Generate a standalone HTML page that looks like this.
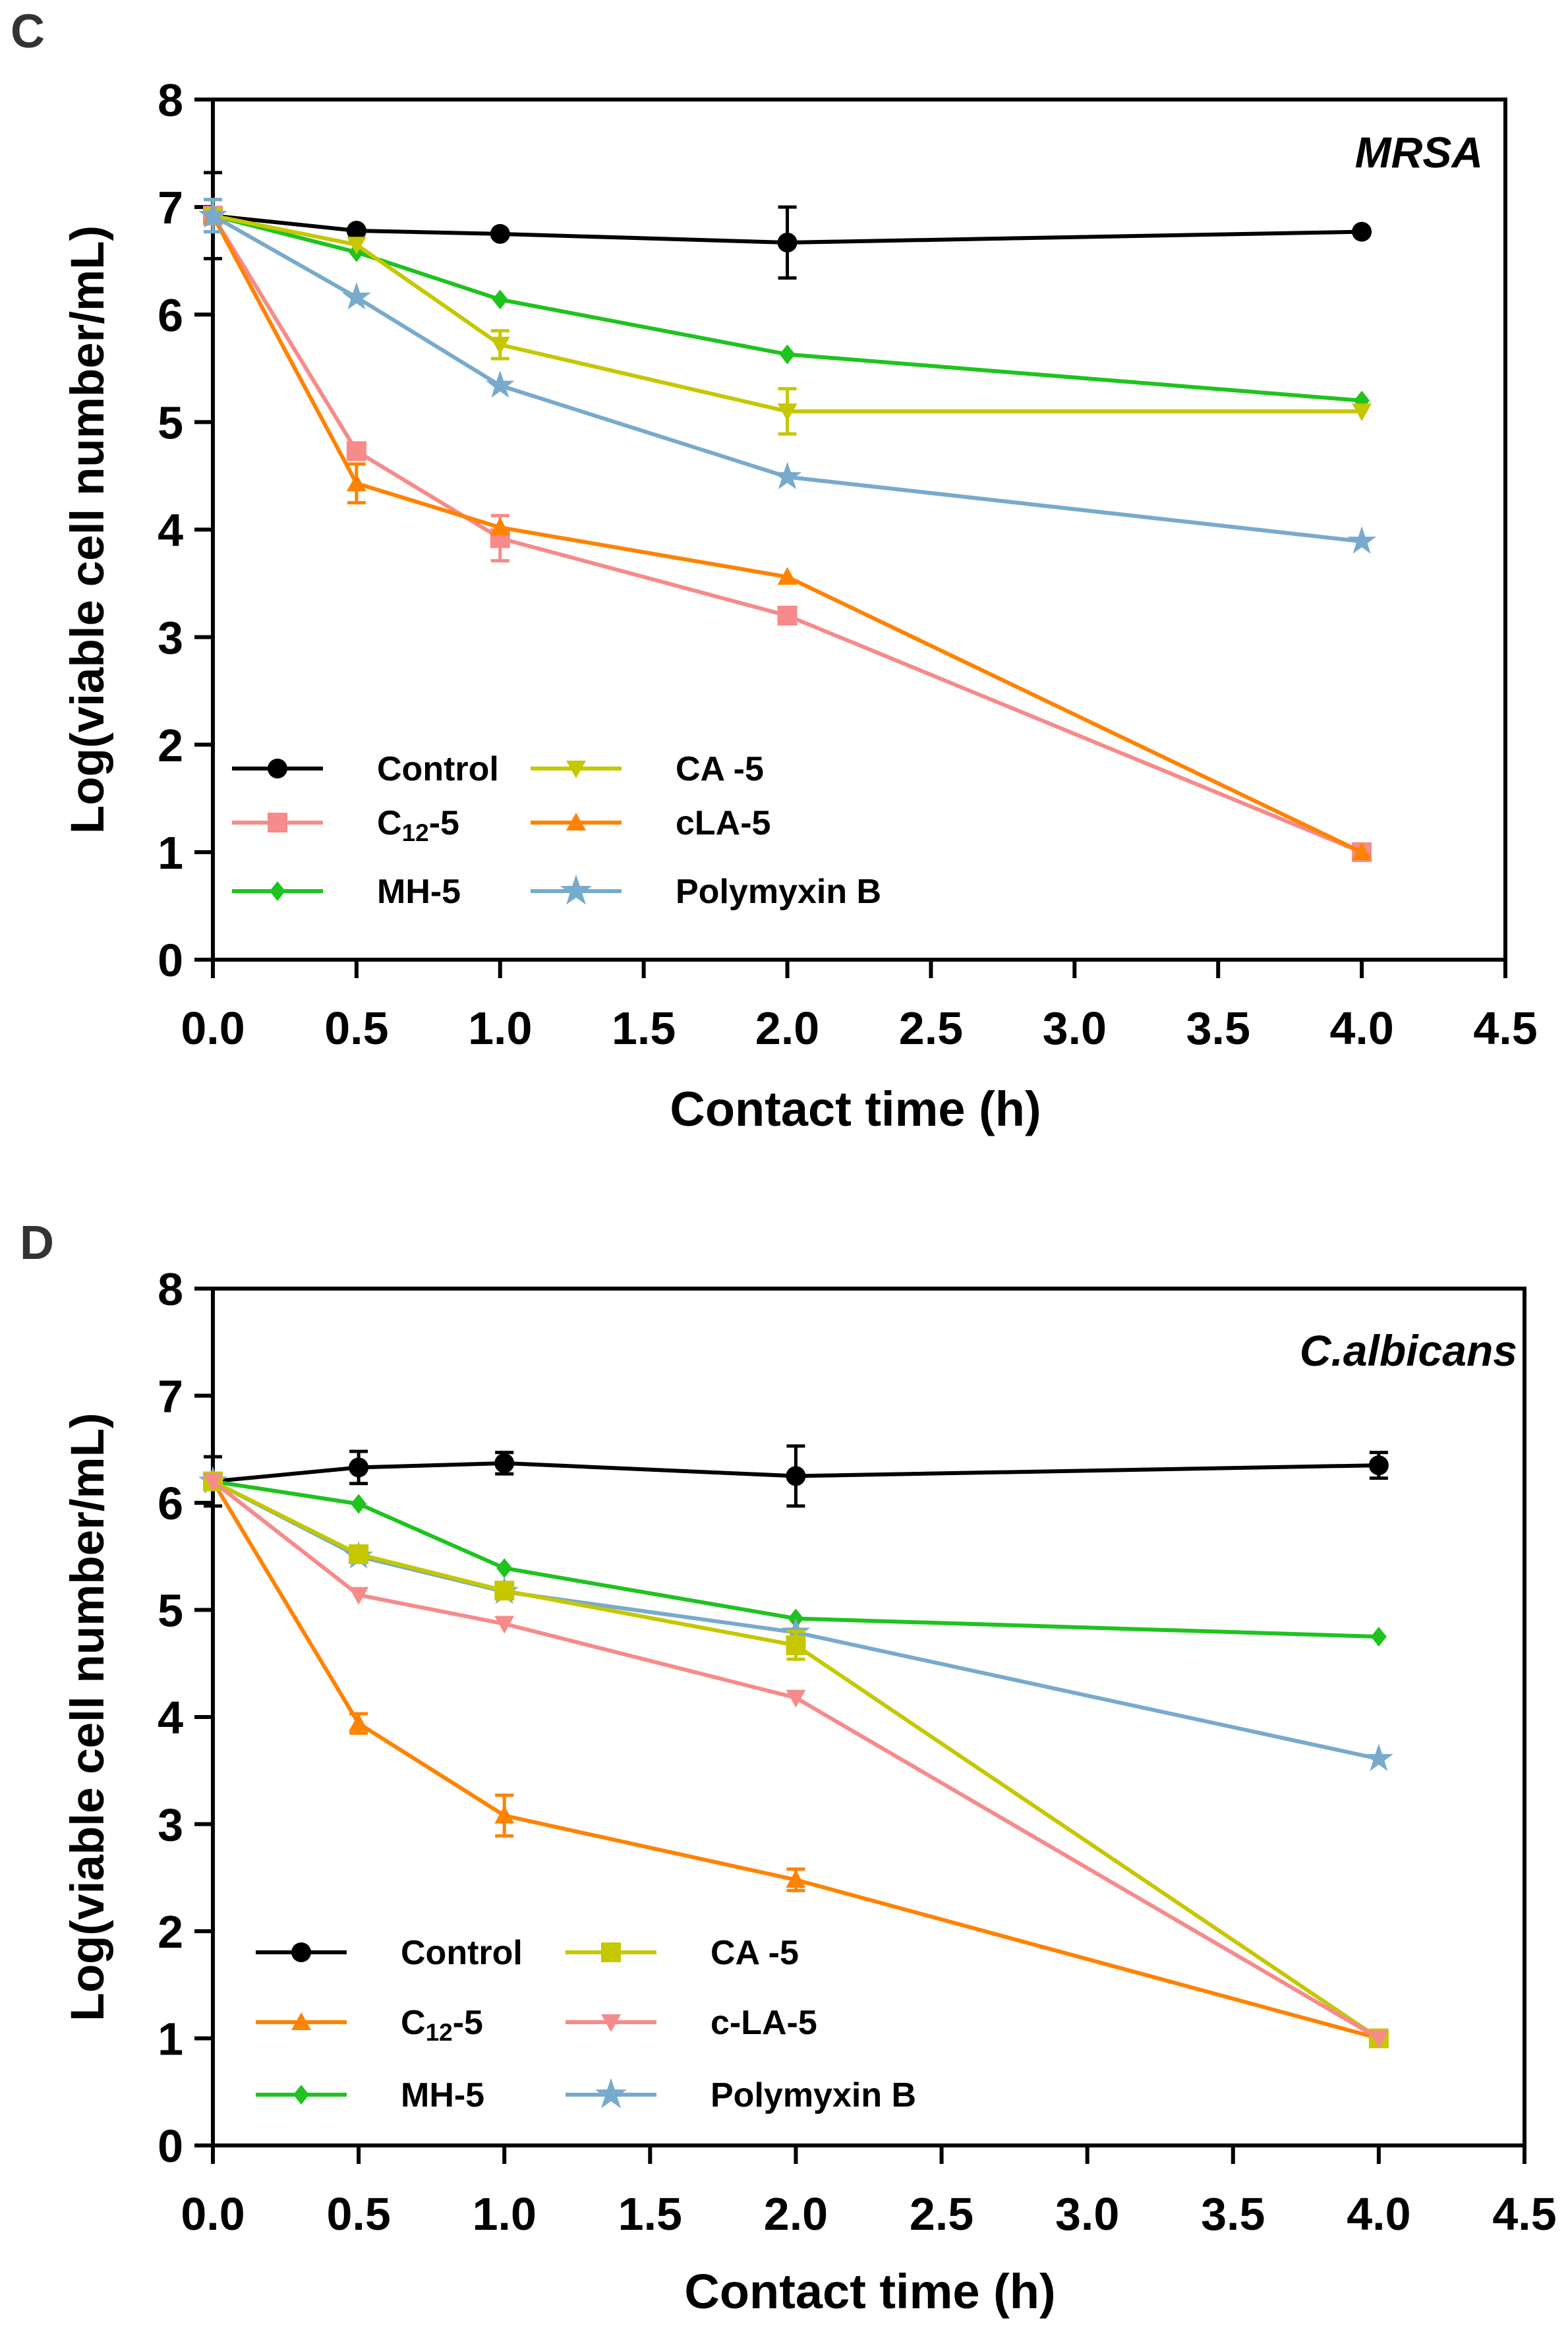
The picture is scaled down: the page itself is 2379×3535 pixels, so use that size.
<!DOCTYPE html>
<html><head><meta charset="utf-8"><style>
html,body{margin:0;padding:0;background:#fff;}
svg{display:block;font-family:"Liberation Sans",Arial,sans-serif;}
</style></head><body>
<svg id="fig" width="2379" height="3535" viewBox="0 0 2379 3535" xmlns="http://www.w3.org/2000/svg"></svg>
<script>
// shared x categories
const times = [0, 0.5, 1, 2, 4];
const xTicks = ["0.0","0.5","1.0","1.5","2.0","2.5","3.0","3.5","4.0","4.5"];
const yTicks = ["0","1","2","3","4","5","6","7","8"];

// Panel C (MRSA)
const cControl = [6.92, 6.78, 6.75, 6.67, 6.77];
const cControlErr = [0.4, 0, 0, 0.33, 0];
const cC12 = [6.92, 4.73, 3.92, 3.2, 1.0];
const cC12Err = [0.15, 0, 0.21, 0, 0];
const cMH = [6.92, 6.58, 6.14, 5.63, 5.2];
const cCA = [6.92, 6.65, 5.72, 5.1, 5.1];
const cCAErr = [0, 0, 0.13, 0.21, 0];
const cCLA = [6.92, 4.43, 4.02, 3.56, 1.0];
const cCLAErr = [0, 0.18, 0, 0, 0];
const cPoly = [6.92, 6.16, 5.34, 4.49, 3.89];
const cPolyErr = [0.15, 0, 0, 0, 0];

// Panel D (C.albicans)
const dControl = [6.2, 6.33, 6.37, 6.25, 6.35];
const dControlErr = [0.23, 0.15, 0.1, 0.28, 0.12];
const dC12 = [6.2, 3.94, 3.08, 2.48, 1.0];
const dC12Err = [0, 0.09, 0.19, 0.1, 0];
const dMH = [6.2, 5.99, 5.39, 4.92, 4.75];
const dCA = [6.2, 5.52, 5.18, 4.67, 1.0];
const dCAErr = [0, 0, 0, 0.13, 0];
const dCLA = [6.2, 5.14, 4.87, 4.18, 1.0];
const dPoly = [6.2, 5.5, 5.17, 4.79, 3.61];

const NS = "http://www.w3.org/2000/svg";
const svg = document.getElementById("fig");
function mk(tag, attrs, parent){const e=document.createElementNS(NS,tag);for(const k in attrs)e.setAttribute(k,attrs[k]);(parent||svg).appendChild(e);return e;}

function marker(g, shape, cx, cy, color, s){
  let e;
  if(shape==="circle"){e=mk("circle",{cx:cx,cy:cy,r:s,fill:color},g);}
  else if(shape==="square"){e=mk("rect",{x:cx-s,y:cy-s,width:2*s,height:2*s,fill:color},g);}
  else if(shape==="diamond"){e=mk("polygon",{points:`${cx},${cy-s} ${cx+s*0.8},${cy} ${cx},${cy+s} ${cx-s*0.8},${cy}`,fill:color},g);}
  else if(shape==="up"){e=mk("polygon",{points:`${cx},${cy-s} ${cx+s},${cy+s*0.8} ${cx-s},${cy+s*0.8}`,fill:color},g);}
  else if(shape==="down"){e=mk("polygon",{points:`${cx},${cy+s} ${cx+s},${cy-s*0.8} ${cx-s},${cy-s*0.8}`,fill:color},g);}
  else if(shape==="star"){let p=[];for(let i=0;i<10;i++){const r=i%2?s*0.45:s*1.15;const a=-Math.PI/2+i*Math.PI/5;p.push((cx+r*Math.cos(a)).toFixed(1)+","+(cy+r*Math.sin(a)).toFixed(1));}e=mk("polygon",{points:p.join(" "),fill:color},g);}
  return e;
}

function panel(cfg){
  const X = v => cfg.x0 + (cfg.x1-cfg.x0)*v/4.5;
  const Y = v => cfg.y0 - (cfg.y0-cfg.y1)*v/8;
  const g = mk("g",{});
  
  
  const lt = mk("text",{x:cfg.letterX,y:cfg.letterY,"font-size":72,"font-weight":"bold",fill:"#333"},g);
  lt.textContent = cfg.letter;
  
  
  const fr = mk("rect",{x:cfg.x0,y:cfg.y1,width:cfg.x1-cfg.x0,height:cfg.y0-cfg.y1,fill:"none",stroke:"#000","stroke-width":6},g);
  
  
  xTicks.forEach((t,i)=>{
    const x = X(i*0.5);
    mk("line",{x1:x,y1:cfg.y0,x2:x,y2:cfg.y0+28,stroke:"#000","stroke-width":6},g);
    const tx = mk("text",{x:x,y:cfg.y0+128,"font-size":70,"font-weight":"bold","text-anchor":"middle"},g);
    tx.textContent = t;
    
    
  });
  yTicks.forEach((t,i)=>{
    const y = Y(i);
    mk("line",{x1:cfg.x0-28,y1:y,x2:cfg.x0,y2:y,stroke:"#000","stroke-width":6},g);
    const ty = mk("text",{x:cfg.x0-45,y:y+25,"font-size":70,"font-weight":"bold","text-anchor":"end"},g);
    ty.textContent = t;
    
    
  });
  const xt = mk("text",{x:cfg.xtX,y:cfg.xtY,"font-size":74,"font-weight":"bold","text-anchor":"middle"},g);
  xt.textContent = "Contact time  (h)";
  
  
  const yt = mk("text",{x:0,y:0,"font-size":71,"font-weight":"bold","text-anchor":"middle",transform:`translate(${cfg.ytX},${(cfg.y0+cfg.y1)/2}) rotate(-90)`},g);
  yt.textContent = "Log(viable cell number/mL)";
  
  
  const org = mk("text",{x:cfg.orgX,y:cfg.orgY,"font-size":66,"font-weight":"bold","font-style":"italic","text-anchor":"end"},g);
  org.textContent = cfg.organism;
  
  
  cfg.series.forEach(s=>{
    const sg = mk("g",{},g);
    
    
    const pts = times.map((t,i)=>X(t).toFixed(1)+","+Y(s.vals[i]).toFixed(1)).join(" ");
    mk("polyline",{points:pts,fill:"none",stroke:s.color,"stroke-width":6,"stroke-linejoin":"round"},sg);
    times.forEach((t,i)=>{
      const e = s.err ? s.err[i] : 0;
      if(e>0){
        const x=X(t), ya=Y(s.vals[i]+e), yb=Y(s.vals[i]-e);
        mk("line",{x1:x,y1:ya,x2:x,y2:yb,stroke:s.color,"stroke-width":5},sg);
        mk("line",{x1:x-14,y1:ya,x2:x+14,y2:ya,stroke:s.color,"stroke-width":5},sg);
        mk("line",{x1:x-14,y1:yb,x2:x+14,y2:yb,stroke:s.color,"stroke-width":5},sg);
      }
      const m = marker(sg, s.shape, X(t), Y(s.vals[i]), s.color, s.shape==="star"?20:15);
      
      
    });
  });
  const lg = mk("g",{},g);
  
  
  cfg.series.forEach((s,i)=>{
    const lx = cfg.legX[s.lcol], ly = cfg.legY[s.lrow];
    const eg = mk("g",{},lg);
    
    
    mk("line",{x1:lx,y1:ly,x2:lx+138,y2:ly,stroke:s.color,"stroke-width":6},eg);
    marker(eg, s.shape, lx+69, ly, s.color, s.shape==="star"?22:15);
    const tt = mk("text",{x:lx+cfg.legTextOff,y:ly+18,"font-size":52,"font-weight":"bold"},eg);
    if(s.label==="C12-5"){
      tt.appendChild(document.createTextNode("C"));
      const sub = mk("tspan",{"font-size":37,dy:10},tt); sub.textContent="12";
      const rest = mk("tspan",{dy:-10},tt); rest.textContent="-5";
    } else tt.textContent = s.label;
  });
}

panel({id:"panel-c",letter:"C",letterX:16,letterY:72,x0:323,x1:2284,y0:1456,y1:151,
  xtX:1298,xtY:1708,ytX:157,orgX:2250,orgY:254,organism:"MRSA",
  legX:[352,805],legY:[1166,1248,1352],legTextOff:220,
  series:[
    {key:"control",label:"Control",vals:cControl,err:cControlErr,color:"#000",shape:"circle",lcol:0,lrow:0},
    {key:"c12-5",label:"C12-5",vals:cC12,err:cC12Err,color:"#f78a8a",shape:"square",lcol:0,lrow:1},
    {key:"mh-5",label:"MH-5",vals:cMH,color:"#1ec31e",shape:"diamond",lcol:0,lrow:2},
    {key:"ca-5",label:"CA -5",vals:cCA,err:cCAErr,color:"#c5c700",shape:"down",lcol:1,lrow:0},
    {key:"cla-5",label:"cLA-5",vals:cCLA,err:cCLAErr,color:"#ff8200",shape:"up",lcol:1,lrow:1},
    {key:"polymyxin-b",label:"Polymyxin B",vals:cPoly,err:cPolyErr,color:"#78aacc",shape:"star",lcol:1,lrow:2}
  ]});

panel({id:"panel-d",letter:"D",letterX:30,letterY:1910,x0:323,x1:2313,y0:3255,y1:1955,
  xtX:1320,xtY:3502,ytX:157,orgX:2302,orgY:2072,organism:"C.albicans",
  legX:[388,858],legY:[2962,3068,3178],legTextOff:220,
  series:[
    {key:"control",label:"Control",vals:dControl,err:dControlErr,color:"#000",shape:"circle",lcol:0,lrow:0},
    {key:"c12-5",label:"C12-5",vals:dC12,err:dC12Err,color:"#ff8200",shape:"up",lcol:0,lrow:1},
    {key:"mh-5",label:"MH-5",vals:dMH,color:"#1ec31e",shape:"diamond",lcol:0,lrow:2},
    {key:"polymyxin-b",label:"Polymyxin B",vals:dPoly,color:"#78aacc",shape:"star",lcol:1,lrow:2},
    {key:"ca-5",label:"CA -5",vals:dCA,err:dCAErr,color:"#c5c700",shape:"square",lcol:1,lrow:0},
    {key:"c-la-5",label:"c-LA-5",vals:dCLA,color:"#f78a8a",shape:"down",lcol:1,lrow:1}
  ]});
</script>
</body></html>
